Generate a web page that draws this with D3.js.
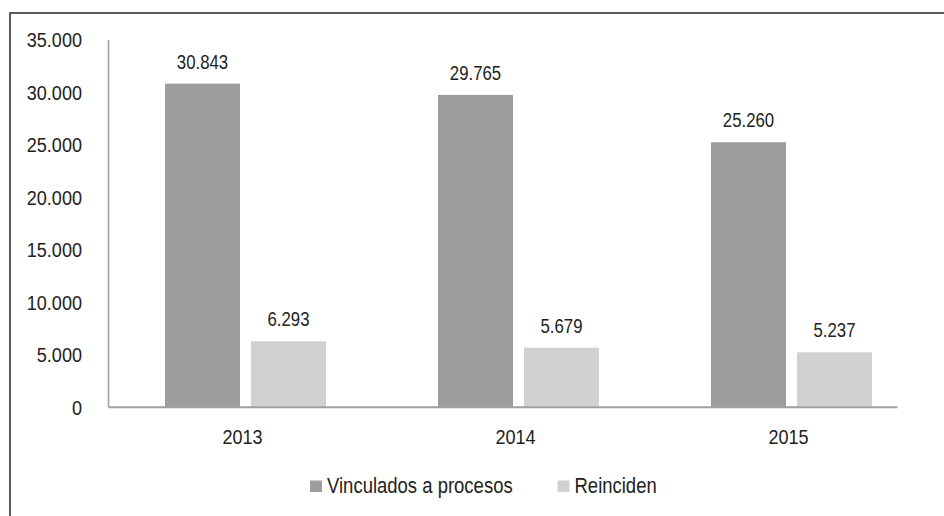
<!DOCTYPE html>
<html>
<head>
<meta charset="utf-8">
<script src="https://cdn.jsdelivr.net/npm/d3@7"></script>
<style>
  html, body { margin: 0; padding: 0; background: #fff; }
  svg text { font-family: "Liberation Sans", Arial, sans-serif; fill: #222; }
</style>
</head>
<body>
<svg id="chart" width="944" height="516"></svg>
<script>
// Categories and series
const years = ["2013", "2014", "2015"];
const seriesNames = ["Vinculados a procesos", "Reinciden"];
const vinculados = [30843, 29765, 25260];
const reinciden = [6293, 5679, 5237];
const yTicks = [0, 5000, 10000, 15000, 20000, 25000, 30000, 35000];
const seriesColors = ["#9d9d9d", "#d1d1d1"];

const svg = d3.select("#chart");
const fmt = v => d3.format(",")(v).replace(/,/g, ".");

// horizontally condensed lettering: move x/y into a transform and squeeze
const NARROW = 0.86;
function condense(sel) {
  sel.each(function () {
    const t = d3.select(this);
    const x = +t.attr("x") || 0, y = +t.attr("y") || 0;
    t.attr("x", 0).attr("y", 0)
     .attr("transform", `translate(${x},${y}) scale(${NARROW},1)`);
  });
}

// outer frame
svg.append("rect")
  .attr("x", 10).attr("y", 13)
  .attr("width", 980).attr("height", 560)
  .attr("fill", "none").attr("stroke", "#333").attr("stroke-width", 1.6);

const plotLeft = 108.5, plotRight = 897.5, plotTop = 40, plotBottom = 407.3;

const y = d3.scaleLinear().domain([0, 35000]).range([plotBottom, plotTop]);
const x0 = d3.scaleBand().domain(years).range([109, 928]);
const groupWidth = 161;
const x1 = d3.scaleBand().domain(seriesNames).range([0, groupWidth]).paddingInner(0.128);

const data = years.map((yr, i) => ({ year: yr, values: [vinculados[i], reinciden[i]] }));

// y axis labels
const yAxis = d3.axisLeft(y).tickValues(yTicks).tickSize(0).tickPadding(0).tickFormat(fmt);
const gy = svg.append("g").attr("transform", `translate(82,0)`).call(yAxis);
gy.select(".domain").remove();
gy.attr("font-family", null).attr("font-size", null);
gy.selectAll("text").style("font-size", "21px").attr("fill", "#222").call(condense);

// bars
const groups = svg.selectAll("g.year").data(data).enter().append("g")
  .attr("class", "year")
  .attr("transform", d => `translate(${x0(d.year) + (x0.bandwidth() - groupWidth) / 2},0)`);

groups.selectAll("rect").data(d => d.values.map((v, j) => ({ name: seriesNames[j], v, j })))
  .enter().append("rect")
  .attr("x", d => x1(d.name))
  .attr("width", x1.bandwidth())
  .attr("y", d => y(d.v))
  .attr("height", d => plotBottom - y(d.v))
  .attr("fill", d => seriesColors[d.j]);

groups.selectAll("text.val").data(d => d.values.map((v, j) => ({ name: seriesNames[j], v, j })))
  .enter().append("text")
  .attr("class", "val")
  .attr("x", d => x1(d.name) + x1.bandwidth() / 2)
  .attr("y", d => y(d.v) - 15)
  .attr("text-anchor", "middle")
  .style("font-size", "19.5px")
  .text(d => fmt(d.v))
  .call(condense);

// axis lines
svg.append("line")
  .attr("x1", plotLeft).attr("x2", plotLeft)
  .attr("y1", plotTop).attr("y2", plotBottom)
  .attr("stroke", "#a6a6a6").attr("stroke-width", 1.7);
svg.append("line")
  .attr("x1", plotLeft).attr("x2", plotRight)
  .attr("y1", plotBottom).attr("y2", plotBottom)
  .attr("stroke", "#a0a0a0").attr("stroke-width", 2);

// x labels
const xAxis = d3.axisBottom(x0).tickSize(0).tickPadding(0);
const gx = svg.append("g").attr("transform", `translate(-3,${plotBottom})`).call(xAxis);
gx.select(".domain").remove();
gx.attr("font-family", null).attr("font-size", null);
gx.selectAll("text").style("font-size", "21px").attr("fill", "#222")
  .attr("dy", null).attr("y", 37).call(condense);

// legend
const legendItems = [
  { name: seriesNames[0], color: seriesColors[0], x: 310 },
  { name: seriesNames[1], color: seriesColors[1], x: 557.5 }
];
const lg = svg.selectAll("g.legend").data(legendItems).enter().append("g")
  .attr("class", "legend")
  .attr("transform", d => `translate(${d.x},0)`);
lg.append("rect").attr("x", 0).attr("y", 480.5).attr("width", 12).attr("height", 11.5)
  .attr("fill", d => d.color);
lg.append("text").attr("x", 17).attr("y", 493).style("font-size", "21.5px")
  .text(d => d.name).call(condense);
</script>
</body>
</html>
